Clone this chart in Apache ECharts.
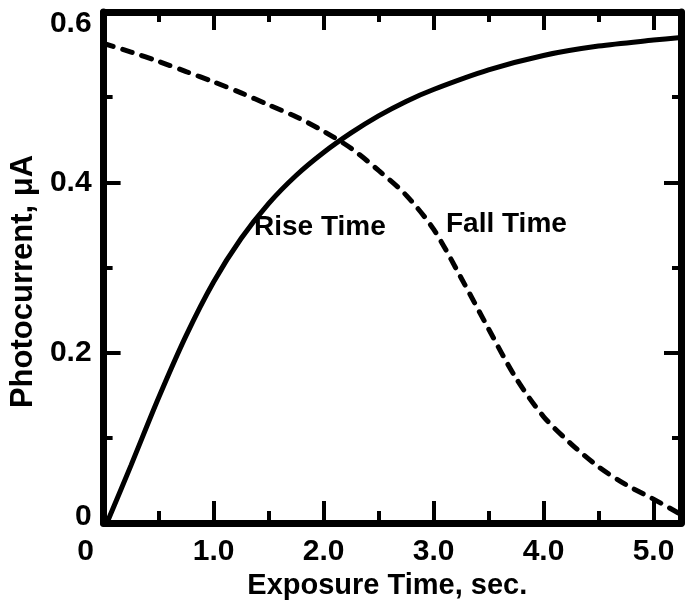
<!DOCTYPE html>
<html>
<head>
<meta charset="utf-8">
<script src="https://cdn.jsdelivr.net/npm/echarts@6/dist/echarts.min.js"></script>
<style>
html,body{margin:0;padding:0;background:#fff;}
#chart{width:685px;height:609px;}
</style>
</head>
<body>
<div id="chart"></div>
<script>
// ---- data ----
var riseX = [0.03, 0.25, 0.5, 0.75, 1.0, 1.25, 1.5, 1.75, 2.0, 2.25, 2.5, 2.75, 3.0, 3.5, 4.0, 4.5, 5.0, 5.25];
var riseY = [0.0, 0.068, 0.147, 0.220, 0.283, 0.334, 0.375, 0.408, 0.435, 0.458, 0.478, 0.495, 0.509, 0.532, 0.549, 0.560, 0.567, 0.570];
var fallX = [0.0, 0.25, 0.5, 0.75, 1.0, 1.25, 1.5, 1.75, 2.0, 2.25, 2.5, 2.75, 3.0, 3.25, 3.5, 3.75, 4.0, 4.25, 4.5, 4.75, 5.0, 5.25];
var fallY = [0.563, 0.553, 0.542, 0.530, 0.518, 0.505, 0.491, 0.477, 0.460, 0.440, 0.414, 0.385, 0.345, 0.288, 0.228, 0.170, 0.125, 0.093, 0.066, 0.045, 0.028, 0.010];

var xTickLabels = ['0', '1.0', '2.0', '3.0', '4.0', '5.0'];
var xMajorTicks = [0, 1, 2, 3, 4, 5];
var xMinorTicks = [0.5, 1.5, 2.5, 3.5, 4.5];
var yTickLabels = ['0', '0.2', '0.4', '0.6'];
var yMajorTicks = [0, 0.2, 0.4, 0.6];
var yMinorTicks = [0.1, 0.3, 0.5];

var xName = 'Exposure Time, sec.';
var yName = 'Photocurrent, \u03bcA';
var riseName = 'Rise Time';
var fallName = 'Fall Time';

function pairs(xs, ys) { return xs.map(function (x, i) { return [x, ys[i]]; }); }

var FONT = '"Liberation Sans", Arial, sans-serif';
var BLACK = '#000';

function xAx(pos, ticks, len, withLine, labels) {
  return {
    type: 'value', position: pos, min: 0, max: 5.25, interval: 1,
    splitLine: { show: false },
    axisLine: { show: withLine, onZero: false, lineStyle: { color: BLACK, width: 7 } },
    axisTick: { show: true, inside: true, customValues: ticks, length: len, lineStyle: { color: BLACK, width: 4 } },
    axisLabel: labels ? {
      show: true, customValues: xMajorTicks, margin: 14, color: BLACK,
      fontFamily: FONT, fontWeight: 'bold', fontSize: 30,
      formatter: function (v) {
        var i = xMajorTicks.indexOf(Math.round(v * 100) / 100);
        if (i < 0) return '';
        return i === 0 ? '{z|' + xTickLabels[i] + '}{g|}' : xTickLabels[i];
      },
      rich: {
        z: { fontFamily: FONT, fontWeight: 'bold', fontSize: 30, color: BLACK },
        g: { width: 36, fontSize: 30 }
      }
    } : { show: false }
  };
}
function yAx(pos, ticks, len, withLine, labels) {
  return {
    type: 'value', position: pos, min: 0, max: 0.6, interval: 0.2,
    splitLine: { show: false },
    axisLine: { show: withLine, onZero: false, lineStyle: { color: BLACK, width: 7 } },
    axisTick: { show: true, inside: true, customValues: ticks, length: len, lineStyle: { color: BLACK, width: 4 } },
    axisLabel: labels ? {
      show: true, customValues: yMajorTicks, margin: 12, color: BLACK,
      fontFamily: FONT, fontWeight: 'bold', fontSize: 30,
      formatter: function (v) {
        var i = yMajorTicks.indexOf(Math.round(v * 10) / 10);
        if (i < 0) return '';
        if (i === yMajorTicks.length - 1) return '{t|' + yTickLabels[i] + '}';
        if (i === 0) return '{b|' + yTickLabels[i] + '}';
        return yTickLabels[i];
      },
      rich: {
        t: { fontFamily: FONT, fontWeight: 'bold', fontSize: 30, color: BLACK, padding: [24, 0, 0, 0] },
        b: { fontFamily: FONT, fontWeight: 'bold', fontSize: 30, color: BLACK, padding: [0, 0, 12, 0] }
      }
    } : { show: false }
  };
}

var chart = echarts.init(document.getElementById('chart'), null, { renderer: 'canvas' });

var xAxes = [
  xAx('bottom', xMajorTicks.slice(1), 22, true, true),
  xAx('bottom', xMinorTicks, 12, false, false),
  xAx('top', xMajorTicks.slice(1), 18, true, false),
  xAx('top', xMinorTicks, 10, false, false)
];
xAxes[0].name = xName;
xAxes[0].nameLocation = 'middle';
xAxes[0].nameGap = 48;
xAxes[0].nameTextStyle = { fontFamily: FONT, fontWeight: 'bold', fontSize: 29, color: BLACK, padding: [0, 10, 0, 0] };

var yAxes = [
  yAx('left', yMajorTicks.slice(1, 3), 17, true, true),
  yAx('left', yMinorTicks, 9, false, false),
  yAx('right', yMajorTicks.slice(1, 3), 17, true, false),
  yAx('right', yMinorTicks, 9, false, false)
];
yAxes[0].name = yName;
yAxes[0].nameLocation = 'middle';
yAxes[0].nameGap = 56;
yAxes[0].nameTextStyle = { fontFamily: FONT, fontWeight: 'bold', fontSize: 31, color: BLACK, padding: [0, 28, 0, 0] };

chart.setOption({
  backgroundColor: '#fff',
  animation: false,
  grid: { left: 93, right: 4, top: 12, bottom: 86, containLabel: false },
  xAxis: xAxes,
  yAxis: yAxes,
  series: [
    {
      name: riseName, type: 'line', xAxisIndex: 0, yAxisIndex: 0,
      data: pairs(riseX, riseY), smooth: 0.3, showSymbol: false, clip: true,
      lineStyle: { color: BLACK, width: 5, cap: 'round' }
    },
    {
      name: fallName, type: 'line', xAxisIndex: 0, yAxisIndex: 0,
      data: pairs(fallX, fallY), smooth: 0.3, showSymbol: false, clip: true,
      lineStyle: { color: BLACK, width: 5, type: [10, 10], cap: 'round' }
    }
  ],
  graphic: [
    { type: 'text', x: 254, y: 227, style: { text: riseName, font: 'bold 28px ' + FONT, fill: BLACK, textAlign: 'left', textVerticalAlign: 'middle' } },
    { type: 'text', x: 446, y: 224, style: { text: fallName, font: 'bold 28px ' + FONT, fill: BLACK, textAlign: 'left', textVerticalAlign: 'middle' } }
  ]
});
</script>
</body>
</html>
